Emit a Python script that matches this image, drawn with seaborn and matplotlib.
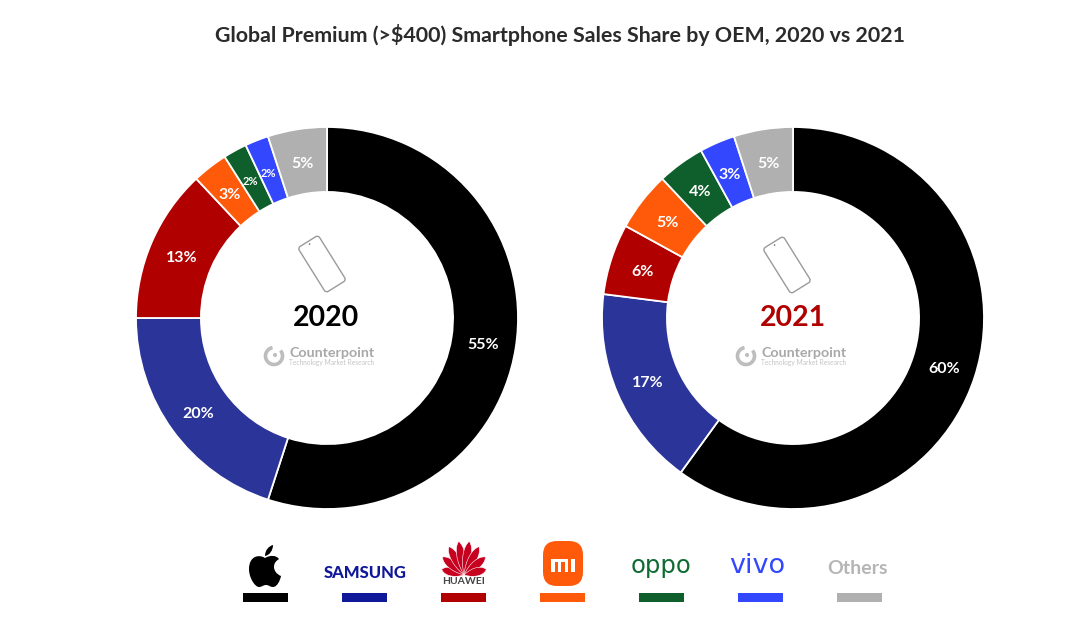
import matplotlib
matplotlib.use('Agg')
import matplotlib.pyplot as plt
import matplotlib.patches as mpatches
from matplotlib.path import Path
from matplotlib.transforms import Affine2D
import seaborn as sns

brands = ['Apple', 'Samsung', 'Huawei', 'Xiaomi', 'OPPO', 'vivo', 'Others']
share_2020 = [55, 20, 13, 3, 2, 2, 5]
share_2021 = [60, 17, 6, 5, 4, 3, 5]
ring_colors = ['#000000', '#2b3499', '#b00000', '#ff5a0a', '#0f5f2c', '#3347ff', '#b0b0b0']
bar_colors = ['#000000', '#10189a', '#b00000', '#ff5a0a', '#0f5f2c', '#3347ff', '#b0b0b0']
title = 'Global Premium (>$400) Smartphone Sales Share by OEM, 2020 vs 2021'

sns.set_theme(style='white')
plt.rcParams['font.family'] = ['Lato', 'DejaVu Sans']

W, H = 1080, 625
fig = plt.figure(figsize=(W / 100, H / 100), dpi=100, facecolor='white')

# overlay in pixel coordinates for logos and texts
bg = fig.add_axes([0, 0, 1, 1])
bg.set_xlim(0, W)
bg.set_ylim(H, 0)
bg.axis('off')


def donut(values, cx, cy, r, sizes):
    ax = fig.add_axes([(cx - r) / W, 1 - (cy + r) / H, 2 * r / W, 2 * r / H])
    wedges, _, texts = ax.pie(values, colors=sns.color_palette(ring_colors), startangle=90,
                              counterclock=False, radius=1, autopct=lambda p: f'{p:.0f}%',
                              pctdistance=0.83,
                              wedgeprops=dict(width=0.34, edgecolor='white', linewidth=1.3))
    ax.set_xlim(-1, 1)
    ax.set_ylim(-1, 1)
    for i, t in enumerate(texts):
        t.set_color('white')
        t.set_fontweight('bold')
        t.set_fontsize(sizes[i])
        x, y = t.get_position()
        t.set_position((x, y - 2.5 / r))
    return ax


donut(share_2020, 327, 318, 191, [11.5, 11.5, 11.5, 11.5, 8, 8, 11.5])
donut(share_2021, 793, 318, 191, [11.5] * 7)

bg.text(560, 35, title, ha='center', va='center', fontsize=15.4, fontweight='bold', color='#2b2b2b')


def phone(cx, cy):
    rot = Affine2D().rotate_deg_around(cx, cy, -32) + bg.transData
    p = mpatches.FancyBboxPatch((cx - 10.5, cy - 25), 21, 50, boxstyle='round,pad=1.5,rounding_size=3',
                                fc='white', ec='#9a9a9a', lw=1.0)
    p.set_transform(rot)
    bg.add_patch(p)
    dot = mpatches.Circle((cx, cy - 23.5), 0.8, fc='#666666', ec='none')
    dot.set_transform(rot)
    bg.add_patch(dot)


def watermark(x, y):
    bg.add_patch(mpatches.Arc((x, y), 17, 17, theta1=-40, theta2=260, ec='#bdbdbd', lw=2.6))
    bg.add_patch(mpatches.Circle((x + 1, y - 1), 2, fc='#bdbdbd', ec='none'))
    bg.text(x + 15, y - 3, 'Counterpoint', fontsize=10.3, fontweight='bold', color='#a9a9a9', va='center')
    bg.text(x + 15, y + 7, 'Technology Market Research', fontsize=4.8, color='#c4c4c4', va='center')


phone(322, 264)
phone(787, 265)
bg.text(326, 318, '2020', ha='center', va='center', fontsize=20.5, fontweight='bold', color='black')
bg.text(792.5, 318, '2021', ha='center', va='center', fontsize=20.5, fontweight='bold', color='#b00000')
watermark(274, 356)
watermark(746, 356)

# legend bars
bar_x = [243, 342, 441, 540, 639, 738, 837]
for x, c in zip(bar_x, bar_colors):
    bg.add_patch(mpatches.Rectangle((x, 593), 45, 9, fc=c, ec='none'))

# apple logo
apple_body = [(265, 558), (259, 554), (249, 556), (249, 569), (249, 578), (255, 587), (259, 587),
              (262, 587), (263, 585), (266, 585), (269, 585), (270, 587), (273, 587),
              (277, 587), (280, 581), (281, 576), (276, 574), (274, 570), (274, 567),
              (274, 563), (276, 561), (279, 559), (276, 555), (270, 555), (265, 558)]
apple_leaf = [(265, 556), (265, 550), (269, 546), (273, 545), (273, 550), (270, 555), (265, 556)]
for pts in [apple_body, apple_leaf]:
    codes = [Path.MOVETO] + [Path.CURVE4] * (len(pts) - 1)
    bg.add_patch(mpatches.PathPatch(Path(pts, codes), fc='black', ec='none'))

bg.text(365, 573, 'SAMSUNG', ha='center', va='center', fontsize=12, fontweight='black', family='Lato', color='#10189a')

# huawei fan, teardrop petals meeting near the bottom centre
for ang, ln in zip([-76, -50, -28, -9, 9, 28, 50, 76], [23, 28, 32, 34, 34, 32, 28, 23]):
    pts = [(464, 575), (458, 575 - ln * 0.45), (459, 575 - ln * 0.85), (464, 575 - ln),
           (469, 575 - ln * 0.85), (470, 575 - ln * 0.45), (464, 575)]
    codes = [Path.MOVETO] + [Path.CURVE4] * 6
    petal = mpatches.PathPatch(Path(pts, codes), fc='#c7001f', ec='white', lw=0.4)
    petal.set_transform(Affine2D().rotate_deg_around(464, 575, ang) + bg.transData)
    bg.add_patch(petal)
bg.text(464, 582, 'HUAWEI', ha='center', va='center', fontsize=7.5, fontweight='bold', family='Lato', color='#444444')

# mi logo
bg.add_patch(mpatches.FancyBboxPatch((551, 549), 24, 29, boxstyle='round,pad=8,rounding_size=14', fc='#ff5a0a', ec='none'))
for x, y, w, h in [(551, 559, 17, 3), (551, 559, 3.5, 13), (557.5, 562, 3, 10), (564.5, 559, 3.5, 13), (571, 559, 4, 13)]:
    bg.add_patch(mpatches.Rectangle((x, y), w, h, fc='white', ec='none'))

bg.text(661, 566, 'oppo', ha='center', va='center', fontsize=17.5, family='DejaVu Sans', color='#0f6b33')
bg.text(757, 566, 'vivo', ha='center', va='center', fontsize=19.5, family='DejaVu Sans', color='#3347ff')
bg.text(858, 568, 'Others', ha='center', va='center', fontsize=14, fontweight='bold', color='#b5b5b5')

fig.savefig('out.png', dpi=100)
